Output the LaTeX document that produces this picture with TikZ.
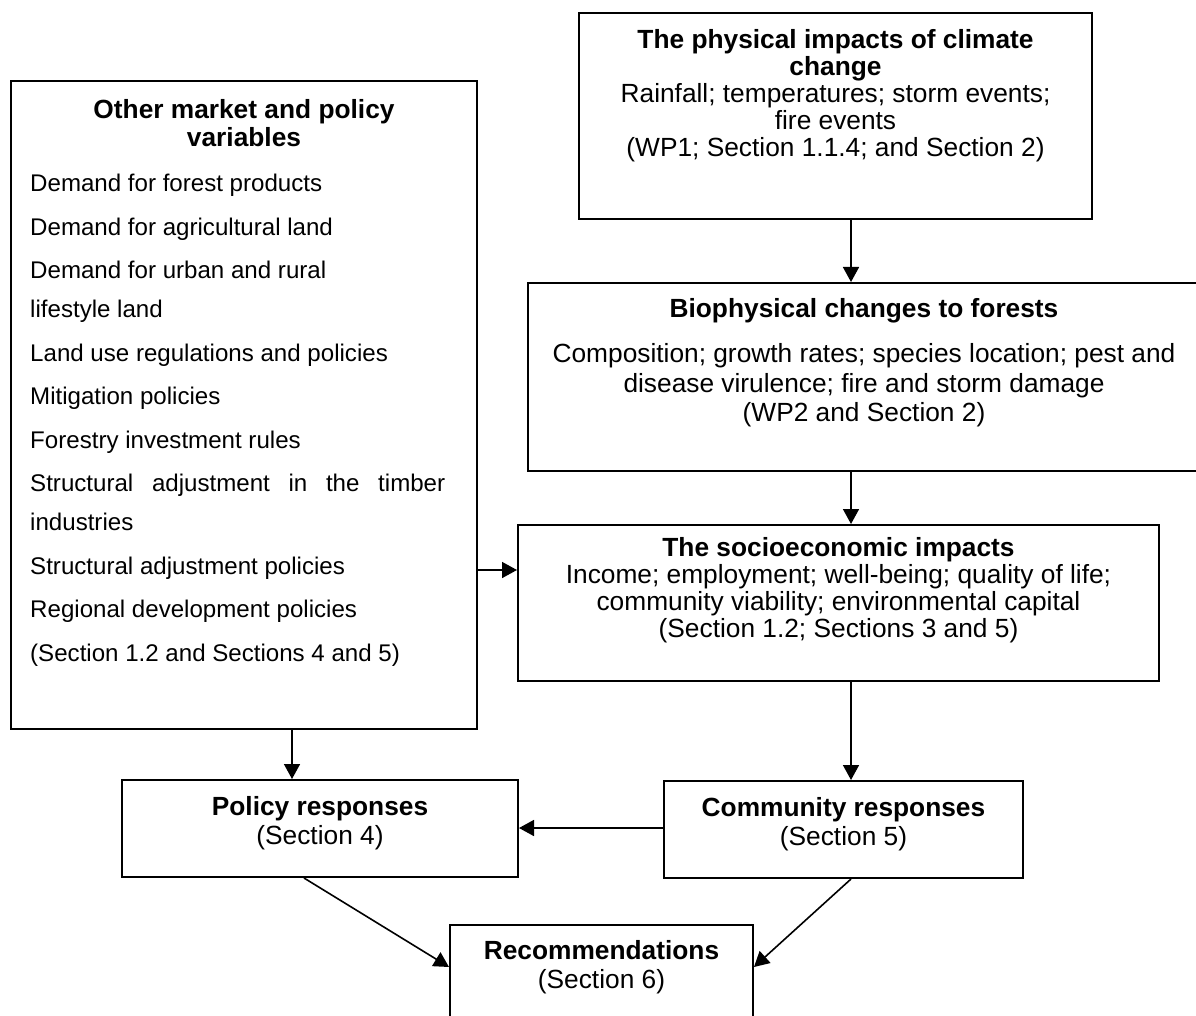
\documentclass[tikz,border=0pt]{standalone}
\usepackage{fontspec}
\setmainfont{Liberation Sans}
\usetikzlibrary{positioning,arrows.meta}

\tikzset{
    box/.style={draw, line width=2pt, inner sep=0pt, anchor=north west},
    txt/.style={inner sep=0pt, align=center, font=\fontsize{26.3}{29.5}\selectfont},
    listtxt/.style={inner sep=0pt, align=left, font=\fontsize{24.1}{39}\selectfont},
    arr/.style={line width=1.6pt, -{Triangle[length=15pt,width=16pt]}}
}

\begin{document}
\begin{tikzpicture}[x=1pt,y=-1pt]
    \useasboundingbox (0,0) rectangle (1196,1016);

    % boxes
    \node[box, minimum width=466pt, minimum height=648pt] (vars) at (10,80) {};
    \node[box, minimum width=513pt, minimum height=206pt] (phys) at (578,12) {};
    \node[box, minimum width=672pt, minimum height=188pt] (bio) at (527,282) {};
    \node[box, minimum width=641pt, minimum height=156pt] (socio) at (517,524) {};
    \node[box, minimum width=396pt, minimum height=97pt] (policy) at (121,779) {};
    \node[box, minimum width=359pt, minimum height=97pt] (comm) at (663,780) {};
    \node[box, minimum width=303pt, minimum height=120pt] (recs) at (449,924) {};

    % texts
    \node[txt, font=\fontsize{26.3}{27}\selectfont, below=17pt of phys.north] (phys-txt)
        {\textbf{The physical impacts of climate}\\ \textbf{change}\\
        Rainfall; temperatures; storm events;\\ fire events\\
        (WP1; Section 1.1.4; and Section 2)};
    \node[txt, below=16pt of bio.north] (bio-txt)
        {\textbf{Biophysical changes to forests}\\[16pt]
        Composition; growth rates; species location; pest and\\
        disease virulence; fire and storm damage\\ (WP2 and Section 2)};
    \node[txt, font=\fontsize{26.3}{27}\selectfont, below=13pt of socio.north] (socio-txt)
        {\textbf{The socioeconomic impacts}\\
        Income; employment; well-being; quality of life;\\
        community viability; environmental capital\\
        (Section 1.2; Sections 3 and 5)};
    \node[txt, font=\fontsize{26.3}{28}\selectfont, below=19pt of vars.north] (vars-title)
        {\textbf{Other market and policy}\\ \textbf{variables}};
    \node[listtxt, below right=94pt and 20pt of vars.north west] (vars-list)
        {Demand for forest products\\[4.5pt]
        Demand for agricultural land\\[4.5pt]
        Demand for urban and rural\\ lifestyle land\\[4.5pt]
        Land use regulations and policies\\[4.5pt]
        Mitigation policies\\[4.5pt]
        Forestry investment rules\\[4.5pt]
        \makebox[415pt][s]{Structural adjustment in the timber}\\ industries\\[4.5pt]
        Structural adjustment policies\\[4.5pt]
        Regional development policies\\[4.5pt]
        (Section 1.2 and Sections 4 and 5)};
    \node[txt, below=17pt of policy.north] (policy-txt) {\textbf{Policy responses}\\ (Section 4)};
    \node[txt, below=17pt of comm.north] (comm-txt) {\textbf{Community responses}\\ (Section 5)};
    \node[txt, below=16pt of recs.north] (recs-txt) {\textbf{Recommendations}\\ (Section 6)};

    % arrows
    \coordinate (spine) at (851,0);
    \coordinate (feed) at (0,570);
    \coordinate (drop) at (292,0);
    \coordinate (link) at (0,828);
    \coordinate (outlet) at (304,0);
    \coordinate (meet) at (0,967);

    \draw[arr] (phys.south -| spine) -- (bio.north -| spine);
    \draw[arr] (bio.south -| spine) -- (socio.north -| spine);
    \draw[arr] (socio.south -| spine) -- (comm.north -| spine);
    \draw[arr] (vars.east |- feed) -- (socio.west |- feed);
    \draw[arr] (vars.south -| drop) -- (policy.north -| drop);
    \draw[arr] (comm.west |- link) -- (policy.east |- link);
    \draw[arr] (policy.south -| outlet) -- (recs.west |- meet);
    \draw[arr] (comm.south -| spine) -- (recs.east |- meet);
\end{tikzpicture}
\end{document}
